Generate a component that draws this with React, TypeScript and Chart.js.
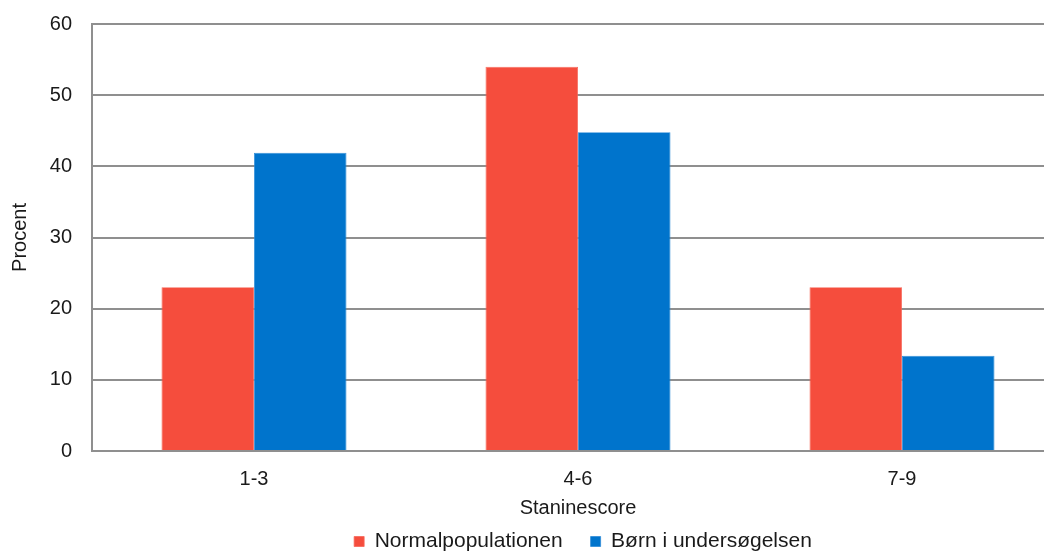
import React, { useEffect, useRef } from "react";
import { Chart, registerables } from "chart.js";

Chart.register(...registerables);

// Stanine score groups and share of children (percent) in each group
const categories = ["1-3", "4-6", "7-9"];
const normalpopulationen = [23, 54, 23];
const bornIUndersogelsen = [41.9, 44.8, 13.4];
const yTicks = [0, 10, 20, 30, 40, 50, 60];

const FONT = "'Liberation Sans', Arial, Helvetica, sans-serif";
const TEXT = "#1a1a1a";
const GRID = "#8f8f8f";

const CANVAS_W = 1150;
const CANVAS_H = 554;

export default function App() {
  const canvasRef = useRef<HTMLCanvasElement | null>(null);

  useEffect(() => {
    if (!canvasRef.current) return;
    const chart = new Chart(canvasRef.current, {
      type: "bar",
      data: {
        labels: categories,
        datasets: [
          {
            label: "Normalpopulationen",
            data: normalpopulationen,
            backgroundColor: "#F54D3D",
            borderColor: "#F7685A",
            borderWidth: 0.8,
          },
          {
            label: "Børn i undersøgelsen",
            data: bornIUndersogelsen,
            backgroundColor: "#0074CC",
            borderColor: "#2E8CD8",
            borderWidth: 0.8,
          },
        ],
      },
      options: {
        animation: false,
        responsive: false,
        maintainAspectRatio: false,
        datasets: {
          bar: { categoryPercentage: 0.571, barPercentage: 1 },
        },
        layout: { padding: { top: 16, right: 0, bottom: 0, left: 0 } },
        plugins: {
          tooltip: { enabled: false },
          legend: {
            position: "bottom",
            labels: {
              boxWidth: 10,
              boxHeight: 10,
              padding: 28,
              color: TEXT,
              font: { family: FONT, size: 21 },
            },
          },
        },
        scales: {
          x: {
            afterFit: (scale: any) => {
              scale.height = 52;
            },
            grid: { display: false, drawTicks: false },
            border: { display: true, color: GRID, width: 2 },
            ticks: {
              color: TEXT,
              font: { family: FONT, size: 20 },
              padding: 16,
            },
            title: {
              display: true,
              text: "Staninescore",
              color: TEXT,
              font: { family: FONT, size: 20 },
              padding: { top: 0, bottom: -17 },
            },
          },
          y: {
            min: 0,
            max: 60,
            afterBuildTicks: (scale: any) => {
              scale.ticks = yTicks.map((v) => ({ value: v }));
            },
            afterFit: (scale: any) => {
              scale.width = 84;
              scale.paddingTop = 0;
              scale.paddingBottom = 0;
            },
            grid: { color: GRID, lineWidth: 2, drawTicks: false },
            border: { display: true, color: GRID, width: 2 },
            ticks: {
              color: TEXT,
              font: { family: FONT, size: 20 },
              padding: 20,
            },
            title: {
              display: true,
              text: "Procent",
              color: TEXT,
              font: { family: FONT, size: 20 },
              padding: { top: 0, bottom: 0 },
            },
          },
          // empty right-hand margin beside the plot
          yRight: {
            position: "right",
            display: true,
            min: 0,
            max: 60,
            afterFit: (scale: any) => {
              scale.width = CANVAS_W - 1056;
              scale.paddingTop = 0;
              scale.paddingBottom = 0;
            },
            grid: { display: false, drawTicks: false },
            border: { display: false },
            ticks: { display: false },
          },
        },
      },
    });
    return () => chart.destroy();
  }, []);

  return (
    <div style={{ width: 1044, height: 546, overflow: "hidden" }}>
      <canvas ref={canvasRef} width={CANVAS_W} height={CANVAS_H} style={{ display: "block" }} />
    </div>
  );
}
